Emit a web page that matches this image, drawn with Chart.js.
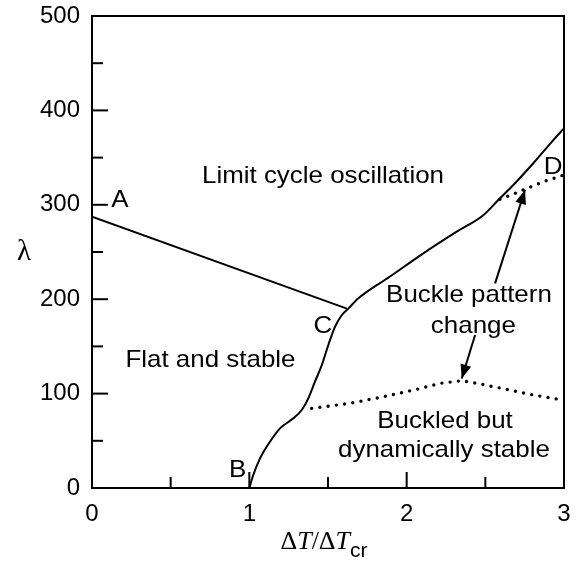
<!DOCTYPE html>
<html>
<head>
<meta charset="utf-8">
<script src="https://cdn.jsdelivr.net/npm/chart.js@4.4.1/dist/chart.umd.min.js"></script>
<style>
  html, body { margin: 0; padding: 0; background: #fff; }
  #wrap { width: 577px; height: 564px; }
</style>
</head>
<body>
<div id="wrap"><canvas id="c" width="577" height="564"></canvas></div>
<script>
// ---- Data ----
const xTicks = [0, 1, 2, 3];
const yTicks = [0, 100, 200, 300, 400, 500];
const xMinorTicks = [0.5, 1.5, 2.5];
const yMinorTicks = [50, 150, 250, 350, 450];

// Boundary A -> C (flat/stable vs limit cycle)
const lineA_x = [0, 1.62];
const lineA_y = [287.5, 190];

// Boundary B -> C -> D
const lineBCD_x = [1.0, 1.025, 1.068, 1.131, 1.195, 1.28, 1.333, 1.375, 1.417, 1.46, 1.502, 1.545, 1.587, 1.629, 1.693, 1.894, 2.106, 2.318, 2.487, 2.593, 2.678, 2.805, 2.932, 3.0];
const lineBCD_y = [0, 13.8, 31.4, 49, 63.2, 73.8, 82.6, 95, 112.6, 130, 151.5, 171, 183, 190, 201, 224, 248.6, 271.5, 289, 306.9, 321, 344, 368.6, 381];

// Dotted boundary near D
const dotD_x = [2.593, 2.741, 2.869, 3.0];
const dotD_y = [305.8, 315.7, 324.5, 331.6];

// Dotted boundary (buckled but dynamically stable)
const dotLow_x = [1.396, 1.64, 1.852, 2.064, 2.212, 2.35, 2.466, 2.636, 2.805, 3.0];
const dotLow_y = [84.4, 89.7, 96.7, 104.5, 110.9, 113.7, 110.2, 104.5, 98.5, 93];

// Arrows (tail -> tip)
const arrowUp_x = [2.562, 2.752];
const arrowUp_y = [216.8, 315.7];
const arrowDown_x = [2.435, 2.35];
const arrowDown_y = [162, 116];

// Text labels (center x, baseline y in data units)
const labelTexts = ['Limit cycle oscillation', 'A', 'Flat and stable', 'C', 'B', 'D', 'Buckle pattern', 'change', 'Buckled but', 'dynamically stable'];
const labelX = [1.468, 0.178, 0.753, 1.468, 0.925, 2.93, 2.396, 2.424, 2.244, 2.237];
const labelY = [323, 298, 128, 164, 11.7, 332.6, 197, 164, 63.2, 33.2];

const yTitle = 'λ';

// ---- helpers ----
const pts = (xs, ys) => xs.map((x, i) => ({ x: x, y: ys[i] }));

const solid = (xs, ys, mono) => ({
  data: pts(xs, ys), showLine: true, borderColor: '#000', borderWidth: 2,
  pointRadius: 0, fill: false, cubicInterpolationMode: mono ? 'monotone' : 'default', tension: mono ? 0.4 : 0
});
const dotted = (xs, ys) => ({
  data: pts(xs, ys), showLine: true, borderColor: '#000', borderWidth: 3.4,
  borderDash: [0, 8.3], borderCapStyle: 'round', pointRadius: 0, fill: false, tension: 0
});

const datasets = [
  solid(lineA_x, lineA_y, false),
  solid(lineBCD_x, lineBCD_y, true),
  dotted(dotD_x, dotD_y),
  dotted(dotLow_x, dotLow_y),
  Object.assign(solid(arrowUp_x, arrowUp_y, false), { arrow: true }),
  Object.assign(solid(arrowDown_x, arrowDown_y, false), { arrow: true })
];

const SANS = '"Liberation Sans", Arial, Helvetica, sans-serif';
const SERIF = '"Liberation Serif", "Times New Roman", serif';

const zeroPad = (s) => { s.paddingTop = 0; s.paddingBottom = 0; s.paddingLeft = 0; s.paddingRight = 0; };

const decor = {
  id: 'decor',
  afterDatasetsDraw(chart) {
    const ctx = chart.ctx;
    const xs = chart.scales.x, ys = chart.scales.y;
    const a = chart.chartArea;
    ctx.save();
    ctx.strokeStyle = '#000';
    ctx.fillStyle = '#000';
    // frame top/right
    ctx.lineWidth = 2;
    ctx.beginPath();
    ctx.moveTo(a.left, a.top); ctx.lineTo(a.right, a.top); ctx.lineTo(a.right, a.bottom);
    ctx.stroke();
    // inward ticks
    const tick = (v, len, axis) => {
      ctx.beginPath();
      if (axis === 'x') {
        const px = xs.getPixelForValue(v);
        ctx.moveTo(px, a.bottom); ctx.lineTo(px, a.bottom - len);
      } else {
        const py = ys.getPixelForValue(v);
        ctx.moveTo(a.left, py); ctx.lineTo(a.left + len, py);
      }
      ctx.stroke();
    };
    xTicks.forEach(v => { if (v > 0 && v < 3) tick(v, 16, 'x'); });
    xMinorTicks.forEach(v => tick(v, 11, 'x'));
    yTicks.forEach(v => { if (v < 500) tick(v, 16, 'y'); });
    yMinorTicks.forEach(v => tick(v, 11, 'y'));

    // arrowheads
    chart.data.datasets.forEach((ds, i) => {
      if (!ds.arrow) return;
      const m = chart.getDatasetMeta(i).data;
      const p0 = m[0], p1 = m[m.length - 1];
      const ang = Math.atan2(p1.y - p0.y, p1.x - p0.x);
      const L = 14, W = 5.5;
      ctx.beginPath();
      ctx.moveTo(p1.x, p1.y);
      ctx.lineTo(p1.x - L * Math.cos(ang) + W * Math.sin(ang), p1.y - L * Math.sin(ang) - W * Math.cos(ang));
      ctx.lineTo(p1.x - L * Math.cos(ang) - W * Math.sin(ang), p1.y - L * Math.sin(ang) + W * Math.cos(ang));
      ctx.closePath();
      ctx.fill();
    });

    // region labels
    ctx.font = '24px ' + SANS;
    ctx.textAlign = 'center';
    ctx.textBaseline = 'alphabetic';
    labelTexts.forEach((t, i) => {
      const px = xs.getPixelForValue(labelX[i]);
      const py = ys.getPixelForValue(labelY[i]);
      ctx.save();
      ctx.translate(px, py);
      ctx.scale(1.08, 1);
      ctx.fillText(t, 0, 0);
      ctx.restore();
    });

    // y title (upright lambda)
    ctx.font = '29px ' + SERIF;
    ctx.textAlign = 'center';
    ctx.textBaseline = 'middle';
    ctx.fillText(yTitle, 24, ys.getPixelForValue(250));

    // x title: ΔT/ΔT_cr
    const parts = [
      { t: 'Δ', f: '26px ' + SERIF, dy: 0 },
      { t: 'T', f: 'italic 26px ' + SERIF, dy: 0 },
      { t: '/', f: '26px ' + SERIF, dy: 0 },
      { t: 'Δ', f: '26px ' + SERIF, dy: 0 },
      { t: 'T', f: 'italic 26px ' + SERIF, dy: 0 },
      { t: 'cr', f: '21px ' + SANS, dy: 8 }
    ];
    let total = 0;
    parts.forEach(p => { ctx.font = p.f; p.w = ctx.measureText(p.t).width; total += p.w; });
    let cx = xs.getPixelForValue(1.5) - 4 - total / 2;
    const base = 549;
    ctx.textAlign = 'left';
    ctx.textBaseline = 'alphabetic';
    parts.forEach(p => { ctx.font = p.f; ctx.fillText(p.t, cx, base + p.dy); cx += p.w; });
    ctx.restore();
  }
};

new Chart(document.getElementById('c'), {
  type: 'scatter',
  data: { datasets: datasets },
  options: {
    responsive: false,
    animation: false,
    layout: { padding: { top: 16, right: 13, left: 0, bottom: 0 } },
    plugins: { legend: { display: false }, tooltip: { enabled: false } },
    scales: {
      x: {
        type: 'linear', min: 0, max: 3,
        afterFit(s) { s.height = 76; zeroPad(s); },
        afterBuildTicks(s) { s.ticks = xTicks.map(v => ({ value: v })); },
        grid: { display: false, drawTicks: false },
        border: { display: true, color: '#000', width: 2 },
        ticks: { color: '#000', font: { family: SANS, size: 24 }, padding: 12, maxRotation: 0 }
      },
      y: {
        type: 'linear', min: 0, max: 500,
        afterFit(s) { s.width = 92; zeroPad(s); },
        afterBuildTicks(s) { s.ticks = yTicks.map(v => ({ value: v })); },
        grid: { display: false, drawTicks: false },
        border: { display: true, color: '#000', width: 2 },
        ticks: { color: '#000', font: { family: SANS, size: 24 }, padding: 12 }
      }
    }
  },
  plugins: [decor]
});
</script>
</body>
</html>
